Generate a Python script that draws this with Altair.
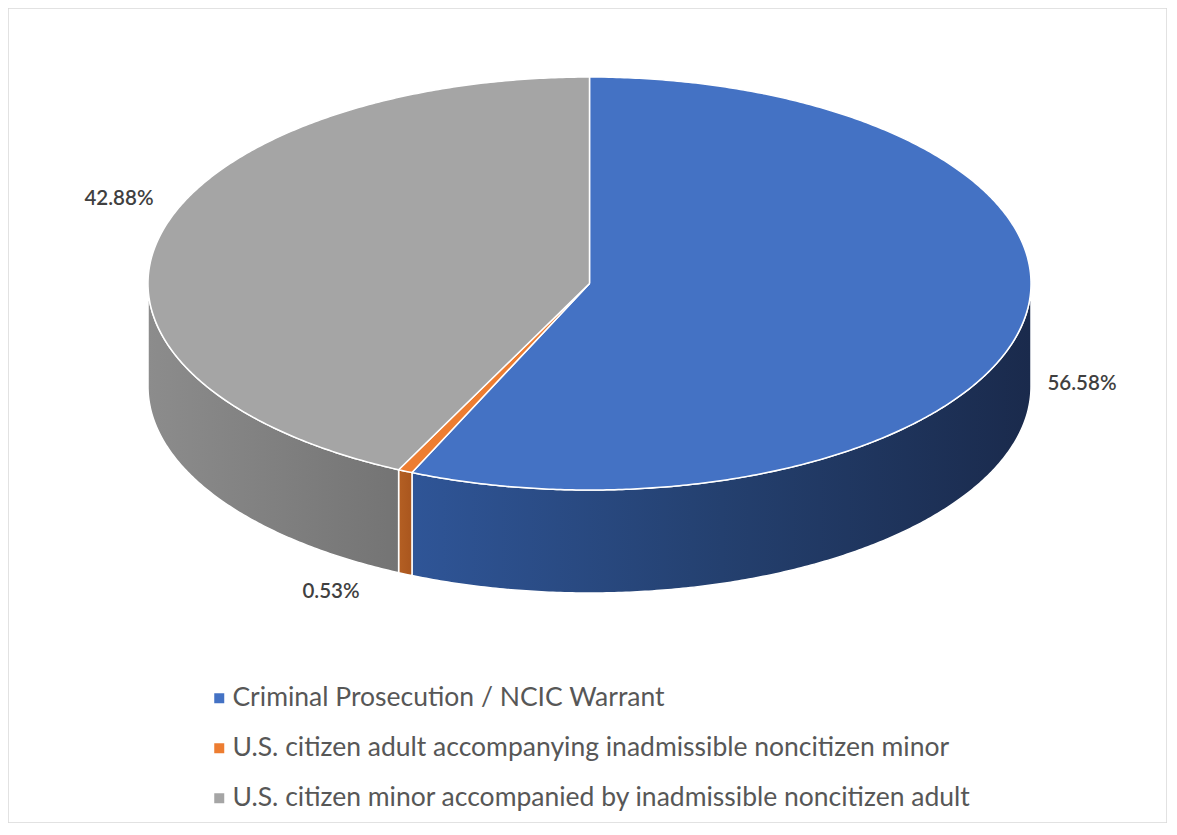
import numpy as np
import pandas as pd
import altair as alt

# ---- data ----
CATEGORIES = [
    "Criminal Prosecution / NCIC Warrant",
    "U.S. citizen adult accompanying inadmissible noncitizen minor",
    "U.S. citizen minor accompanied by inadmissible noncitizen adult",
]
SHARES = [56.58, 0.53, 42.88]

# ---- styles ----
TOP_COLORS = ["#4472C4", "#ED7D31", "#A5A5A5"]
SIDE_STOPS = [
    [("#2F5597", 0.0), ("#24406F", 0.5), ("#1A2A4C", 1.0)],
    [("#B45F23", 0.0), ("#A9561E", 1.0)],
    [("#8C8C8C", 0.0), ("#747474", 1.0)],
]
FONT = "Lato"

# ---- layout (plot pixels) ----
W, H = 1159, 815
CX, CY, RX, RY, DEPTH = 581.5, 275.5, 441.5, 206.5, 103.0
LABEL_POS = [(1074, 376), (323, 584), (111, 191)]


def ell(theta_deg, dy=0.0):
    t = np.radians(theta_deg)
    return CX + RX * np.sin(t), CY - RY * np.cos(t) + dy


total = float(sum(SHARES))
ends = np.cumsum(SHARES) / total * 360.0
starts = np.concatenate([[0.0], ends[:-1]])

top_rows, side_rows = [], []
for k, (cat, a0, a1) in enumerate(zip(CATEGORIES, starts, ends)):
    n = max(3, int((a1 - a0) / 0.5) + 2)
    angs = np.linspace(a0, a1, n)
    pts = [(CX, CY)] + [ell(a) for a in angs] + [(CX, CY)]
    for i, (x, y) in enumerate(pts):
        top_rows.append({"cat": cat, "poly": f"t{k}", "i": i, "x": x, "y": y})
    lo, hi = max(a0, 90.0), min(a1, 270.0)
    if hi > lo:
        n = max(3, int((hi - lo) / 0.5) + 2)
        angs = np.linspace(lo, hi, n)
        pts = [ell(a) for a in angs] + [ell(a, DEPTH) for a in angs[::-1]] + [ell(angs[0])]
        for i, (x, y) in enumerate(pts):
            side_rows.append({"cat": cat, "k": k, "poly": f"s{k}", "i": i, "x": x, "y": y})

top_df = pd.DataFrame(top_rows)
side_df = pd.DataFrame(side_rows)
label_df = pd.DataFrame({
    "cat": CATEGORIES,
    "text": [f"{v:.2f}%" for v in SHARES],
    "x": [p[0] for p in LABEL_POS],
    "y": [p[1] for p in LABEL_POS],
})

xs = alt.X("x:Q", scale=alt.Scale(domain=[0, W], nice=False, zero=False), axis=None)
ys = alt.Y("y:Q", scale=alt.Scale(domain=[0, H], nice=False, zero=False, reverse=True), axis=None)

layers = []
for k in range(len(CATEGORIES)):
    sub = side_df[side_df["k"] == k]
    if sub.empty:
        continue
    grad = alt.Gradient(
        gradient="linear", x1=0, x2=1, y1=0, y2=0,
        stops=[alt.GradientStop(color=c, offset=o) for c, o in SIDE_STOPS[k]],
    )
    layers.append(
        alt.Chart(sub).mark_line(fill=grad, stroke="white", strokeWidth=1.5, strokeJoin="round")
        .encode(x=xs, y=ys, order="i:Q", detail="poly:N")
    )

top = alt.Chart(top_df).mark_line(filled=True, stroke="white", strokeWidth=1.5, strokeJoin="round").encode(
    x=xs, y=ys, order="i:Q", detail="poly:N",
    color=alt.Color(
        "cat:N",
        scale=alt.Scale(domain=CATEGORIES, range=TOP_COLORS),
        legend=alt.Legend(
            title=None, orient="none", legendX=198, legendY=677, direction="vertical",
            symbolType="square", symbolSize=100, symbolStrokeWidth=0, symbolOpacity=1,
            labelFont=FONT, labelFontSize=26.5, labelColor="#575757", labelOffset=0,
            rowPadding=23, labelLimit=1000,
        ),
    ),
)
layers.append(top)

labels = alt.Chart(label_df).mark_text(
    font=FONT, fontSize=20.5, color="#404040", fontWeight=600, align="center", baseline="middle"
).encode(x=xs, y=ys, text="text:N")
layers.append(labels)

chart = alt.layer(*layers).properties(
    width=W, height=H, padding=0, autosize=alt.AutoSizeParams(type="none")
).configure_view(stroke="#D9D9D9", strokeWidth=1.5)

chart.save("out.html", embed_options={"renderer": "svg", "actions": False})
